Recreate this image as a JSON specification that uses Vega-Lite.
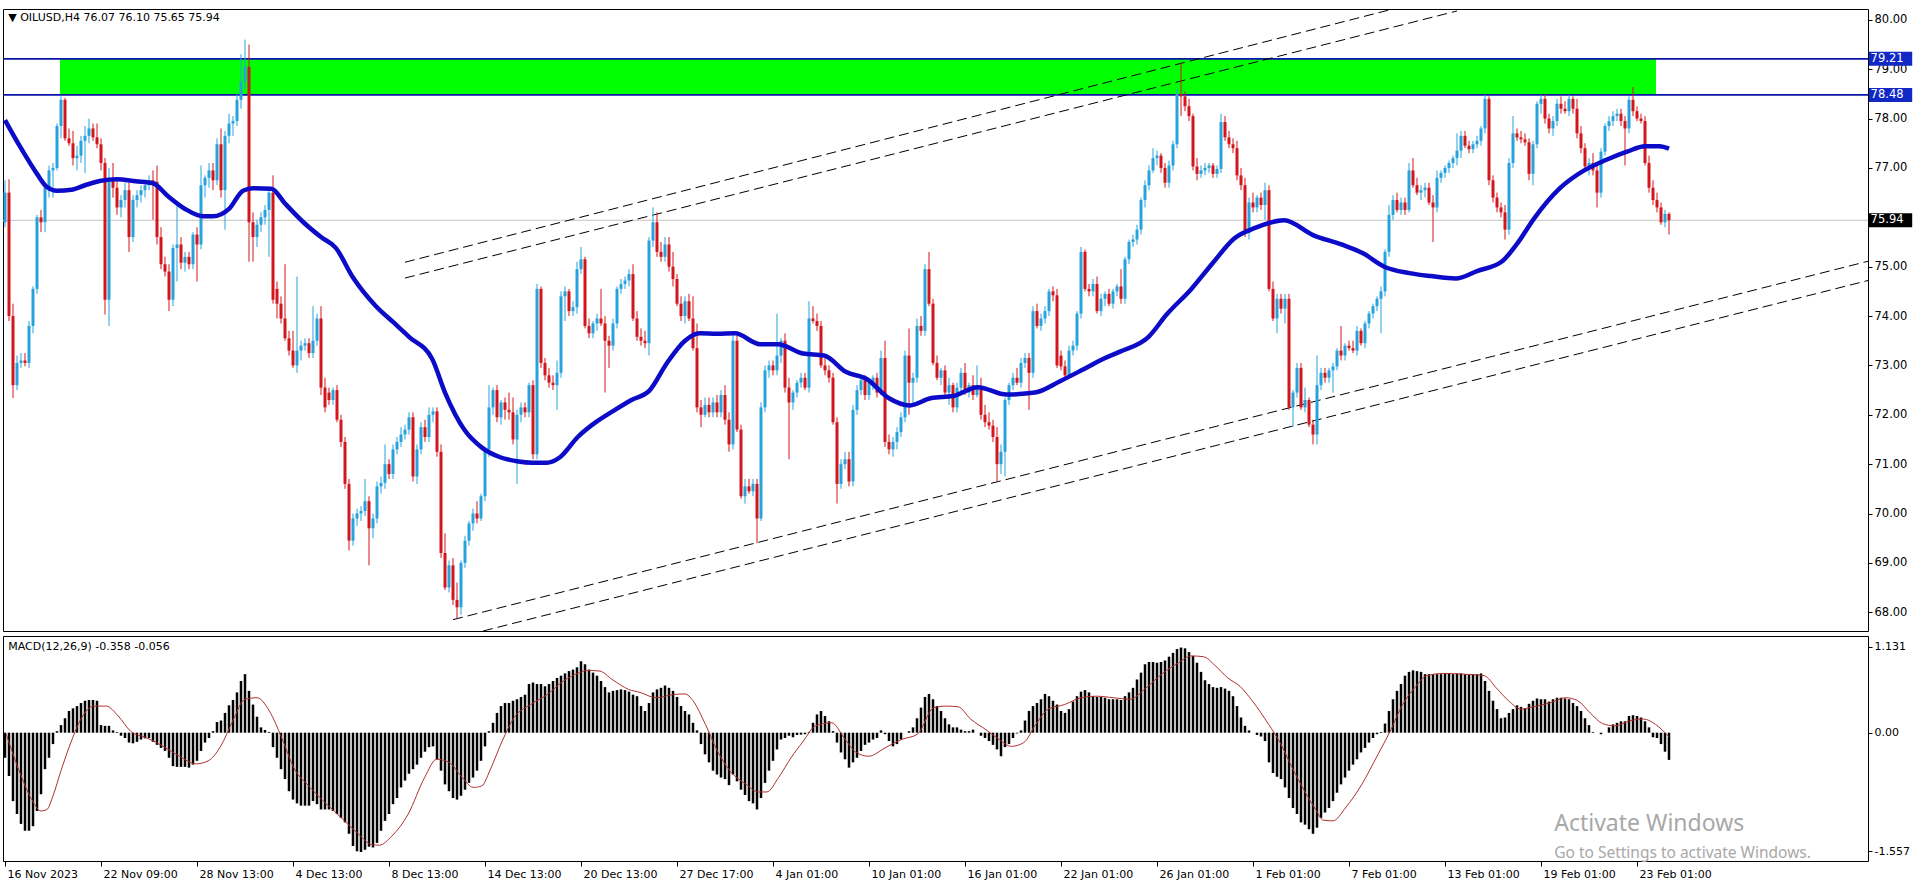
{
"$schema":"https://vega.github.io/schema/vega-lite/v6.json",
"usermeta":{"embedOptions":{"actions":false}},
"background":"white",
"padding":{"left":-5,"top":8,"right":0,"bottom":0},
"config":{"view":{"stroke":"#000000","strokeWidth":1},"axis":{"labelFont":"DejaVu Sans","labelFontSize":11,"labelColor":"#000000","tickColor":"#000000","grid":false},"text":{"font":"DejaVu Sans"}},
"datasets":{
"bars":[
{"i":0,"o":75.9,"h":76.75,"l":75.8,"c":76.5,"m":-0.33},
{"i":1,"o":76.5,"h":76.77,"l":73.9,"c":74.0,"m":-0.57},
{"i":2,"o":74.0,"h":74.25,"l":72.34,"c":72.6,"m":-0.9},
{"i":3,"o":72.6,"h":73.2,"l":72.5,"c":73.05,"m":-1.07},
{"i":4,"o":73.05,"h":73.25,"l":72.95,"c":73.1,"m":-1.2},
{"i":5,"o":73.1,"h":73.25,"l":72.98,"c":73.05,"m":-1.29},
{"i":6,"o":73.05,"h":73.9,"l":72.95,"c":73.8,"m":-1.29},
{"i":7,"o":73.8,"h":74.6,"l":73.65,"c":74.55,"m":-1.23},
{"i":8,"o":74.55,"h":76.05,"l":74.45,"c":76.0,"m":-1.03},
{"i":9,"o":76.0,"h":76.15,"l":75.7,"c":75.9,"m":-0.81},
{"i":10,"o":75.9,"h":76.7,"l":75.7,"c":76.6,"m":-0.48},
{"i":11,"o":76.6,"h":77.05,"l":76.4,"c":76.95,"m":-0.33},
{"i":12,"o":76.95,"h":77.1,"l":76.4,"c":77.0,"m":-0.15},
{"i":13,"o":77.0,"h":77.9,"l":76.95,"c":77.85,"m":0.02},
{"i":14,"o":77.85,"h":78.45,"l":77.6,"c":78.38,"m":0.1},
{"i":15,"o":78.38,"h":78.42,"l":77.55,"c":77.6,"m":0.19},
{"i":16,"o":77.6,"h":77.8,"l":77.45,"c":77.5,"m":0.285},
{"i":17,"o":77.5,"h":77.75,"l":77.05,"c":77.2,"m":0.32},
{"i":18,"o":77.2,"h":77.45,"l":76.95,"c":77.25,"m":0.35},
{"i":19,"o":77.25,"h":77.65,"l":77.1,"c":77.55,"m":0.39},
{"i":20,"o":77.55,"h":77.85,"l":76.9,"c":77.65,"m":0.42},
{"i":21,"o":77.65,"h":78.0,"l":77.5,"c":77.8,"m":0.43},
{"i":22,"o":77.8,"h":77.9,"l":77.55,"c":77.62,"m":0.43},
{"i":23,"o":77.62,"h":77.9,"l":77.4,"c":77.48,"m":0.42},
{"i":24,"o":77.48,"h":77.6,"l":76.95,"c":77.1,"m":0.1},
{"i":25,"o":77.1,"h":77.2,"l":74.03,"c":74.33,"m":0.09},
{"i":26,"o":74.33,"h":77.0,"l":73.8,"c":76.8,"m":0.09},
{"i":27,"o":76.8,"h":77.1,"l":76.4,"c":76.6,"m":0.03},
{"i":28,"o":76.6,"h":76.75,"l":76.05,"c":76.2,"m":0.01},
{"i":29,"o":76.2,"h":76.45,"l":76.0,"c":76.35,"m":-0.04},
{"i":30,"o":76.35,"h":76.7,"l":76.2,"c":76.55,"m":-0.07},
{"i":31,"o":76.55,"h":76.7,"l":75.3,"c":75.6,"m":-0.13},
{"i":32,"o":75.6,"h":76.45,"l":75.5,"c":76.35,"m":-0.14},
{"i":33,"o":76.35,"h":76.55,"l":76.2,"c":76.45,"m":-0.12},
{"i":34,"o":76.45,"h":76.65,"l":76.3,"c":76.55,"m":-0.09},
{"i":35,"o":76.55,"h":76.75,"l":76.4,"c":76.65,"m":-0.075},
{"i":36,"o":76.65,"h":76.85,"l":76.55,"c":76.75,"m":-0.07},
{"i":37,"o":76.75,"h":76.95,"l":75.95,"c":76.72,"m":-0.12},
{"i":38,"o":76.72,"h":77.05,"l":75.45,"c":75.6,"m":-0.16},
{"i":39,"o":75.6,"h":75.8,"l":74.95,"c":75.05,"m":-0.2},
{"i":40,"o":75.05,"h":75.2,"l":74.8,"c":74.9,"m":-0.24},
{"i":41,"o":74.9,"h":75.05,"l":74.1,"c":74.33,"m":-0.33},
{"i":42,"o":74.33,"h":75.45,"l":74.2,"c":75.38,"m":-0.44},
{"i":43,"o":75.38,"h":76.3,"l":74.7,"c":75.45,"m":-0.45},
{"i":44,"o":75.45,"h":75.6,"l":74.95,"c":75.08,"m":-0.45},
{"i":45,"o":75.08,"h":75.3,"l":74.9,"c":75.2,"m":-0.45},
{"i":46,"o":75.2,"h":75.3,"l":74.95,"c":75.05,"m":-0.46},
{"i":47,"o":75.05,"h":75.7,"l":74.95,"c":75.65,"m":-0.42},
{"i":48,"o":75.65,"h":75.8,"l":74.7,"c":75.45,"m":-0.37},
{"i":49,"o":75.45,"h":77.05,"l":75.35,"c":76.65,"m":-0.24},
{"i":50,"o":76.65,"h":76.85,"l":76.4,"c":76.8,"m":-0.13},
{"i":51,"o":76.8,"h":77.1,"l":76.6,"c":76.95,"m":-0.07},
{"i":52,"o":76.95,"h":77.1,"l":76.55,"c":76.75,"m":0.02},
{"i":53,"o":76.75,"h":77.6,"l":76.65,"c":77.48,"m":0.14},
{"i":54,"o":77.48,"h":77.8,"l":76.4,"c":76.55,"m":0.16},
{"i":55,"o":76.55,"h":77.75,"l":75.75,"c":77.65,"m":0.26},
{"i":56,"o":77.65,"h":78.1,"l":77.5,"c":77.9,"m":0.36},
{"i":57,"o":77.9,"h":78.05,"l":77.65,"c":77.95,"m":0.43},
{"i":58,"o":77.95,"h":78.5,"l":77.85,"c":78.38,"m":0.53},
{"i":59,"o":78.38,"h":79.3,"l":78.2,"c":78.75,"m":0.68},
{"i":60,"o":78.75,"h":79.6,"l":78.6,"c":79.05,"m":0.77},
{"i":61,"o":79.05,"h":79.5,"l":75.1,"c":75.9,"m":0.55},
{"i":62,"o":75.9,"h":76.1,"l":75.1,"c":75.6,"m":0.37},
{"i":63,"o":75.6,"h":75.95,"l":75.4,"c":75.85,"m":0.21},
{"i":64,"o":75.85,"h":76.1,"l":75.7,"c":76.0,"m":0.07},
{"i":65,"o":76.0,"h":76.25,"l":75.85,"c":76.15,"m":0.035},
{"i":66,"o":76.15,"h":76.6,"l":75.2,"c":76.5,"m":0.01},
{"i":67,"o":76.5,"h":76.85,"l":74.25,"c":74.33,"m":-0.19},
{"i":68,"o":74.55,"h":74.7,"l":73.95,"c":74.25,"m":-0.33},
{"i":69,"o":74.25,"h":74.4,"l":73.85,"c":73.95,"m":-0.48},
{"i":70,"o":73.95,"h":75.05,"l":73.5,"c":73.55,"m":-0.61},
{"i":71,"o":73.55,"h":73.7,"l":73.2,"c":73.3,"m":-0.77},
{"i":72,"o":73.3,"h":73.7,"l":72.95,"c":73.0,"m":-0.88},
{"i":73,"o":73.0,"h":74.8,"l":72.85,"c":73.3,"m":-0.93},
{"i":74,"o":73.3,"h":73.5,"l":73.1,"c":73.4,"m":-0.96},
{"i":75,"o":73.4,"h":73.55,"l":73.3,"c":73.45,"m":-0.96},
{"i":76,"o":73.45,"h":73.55,"l":73.15,"c":73.25,"m":-0.96},
{"i":77,"o":73.25,"h":74.2,"l":73.15,"c":73.5,"m":-0.9},
{"i":78,"o":73.5,"h":74.05,"l":73.4,"c":73.95,"m":-0.94},
{"i":79,"o":73.95,"h":74.2,"l":72.4,"c":72.55,"m":-1.01},
{"i":80,"o":72.55,"h":72.75,"l":72.05,"c":72.15,"m":-1.01},
{"i":81,"o":72.45,"h":72.55,"l":72.2,"c":72.3,"m":-1.01},
{"i":82,"o":72.3,"h":72.55,"l":72.2,"c":72.5,"m":-1.03},
{"i":83,"o":72.5,"h":72.6,"l":71.85,"c":71.9,"m":-1.07},
{"i":84,"o":71.9,"h":72.0,"l":71.35,"c":71.45,"m":-1.12},
{"i":85,"o":71.45,"h":71.55,"l":70.5,"c":70.6,"m":-1.18},
{"i":86,"o":70.6,"h":70.7,"l":69.25,"c":69.45,"m":-1.33},
{"i":87,"o":69.45,"h":70.0,"l":69.35,"c":69.9,"m":-1.49},
{"i":88,"o":69.9,"h":70.1,"l":69.75,"c":70.0,"m":-1.56},
{"i":89,"o":70.0,"h":70.15,"l":69.85,"c":70.05,"m":-1.57},
{"i":90,"o":70.05,"h":70.7,"l":69.95,"c":70.25,"m":-1.54},
{"i":91,"o":70.25,"h":70.35,"l":68.95,"c":69.7,"m":-1.5},
{"i":92,"o":69.7,"h":70.0,"l":69.5,"c":69.9,"m":-1.51},
{"i":93,"o":69.9,"h":70.65,"l":69.8,"c":70.55,"m":-1.45},
{"i":94,"o":70.55,"h":70.75,"l":70.4,"c":70.62,"m":-1.29},
{"i":95,"o":70.62,"h":71.4,"l":70.5,"c":71.0,"m":-1.16},
{"i":96,"o":71.0,"h":71.1,"l":70.7,"c":70.8,"m":-1.07},
{"i":97,"o":70.8,"h":71.4,"l":70.7,"c":71.3,"m":-0.94},
{"i":98,"o":71.3,"h":71.55,"l":71.2,"c":71.45,"m":-0.86},
{"i":99,"o":71.45,"h":71.75,"l":71.35,"c":71.6,"m":-0.72},
{"i":100,"o":71.6,"h":71.8,"l":71.5,"c":71.7,"m":-0.63},
{"i":101,"o":71.7,"h":72.05,"l":71.6,"c":71.95,"m":-0.54},
{"i":102,"o":71.95,"h":72.05,"l":70.65,"c":70.75,"m":-0.48},
{"i":103,"o":70.75,"h":71.4,"l":70.6,"c":71.3,"m":-0.42},
{"i":104,"o":71.3,"h":71.85,"l":71.2,"c":71.75,"m":-0.33},
{"i":105,"o":71.75,"h":71.9,"l":71.45,"c":71.55,"m":-0.25},
{"i":106,"o":71.55,"h":72.15,"l":71.45,"c":72.0,"m":-0.19},
{"i":107,"o":72.0,"h":72.15,"l":71.85,"c":72.07,"m":-0.18},
{"i":108,"o":72.07,"h":72.15,"l":71.15,"c":71.25,"m":-0.35},
{"i":109,"o":71.25,"h":71.4,"l":69.1,"c":69.2,"m":-0.5},
{"i":110,"o":69.2,"h":69.6,"l":68.45,"c":68.5,"m":-0.68},
{"i":111,"o":68.5,"h":69.05,"l":68.4,"c":68.95,"m":-0.77},
{"i":112,"o":68.95,"h":69.1,"l":68.15,"c":68.25,"m":-0.86},
{"i":113,"o":68.25,"h":68.6,"l":67.87,"c":68.1,"m":-0.88},
{"i":114,"o":68.1,"h":69.05,"l":67.95,"c":69.0,"m":-0.83},
{"i":115,"o":69.0,"h":69.55,"l":68.9,"c":69.45,"m":-0.75},
{"i":116,"o":69.45,"h":69.85,"l":69.35,"c":69.8,"m":-0.66},
{"i":117,"o":69.8,"h":70.1,"l":69.65,"c":70.0,"m":-0.59},
{"i":118,"o":70.0,"h":70.25,"l":69.8,"c":69.9,"m":-0.5},
{"i":119,"o":69.9,"h":70.4,"l":69.85,"c":70.35,"m":-0.37},
{"i":120,"o":70.35,"h":71.35,"l":70.25,"c":71.3,"m":-0.18},
{"i":121,"o":71.3,"h":72.6,"l":71.15,"c":72.15,"m":0.02},
{"i":122,"o":72.15,"h":72.55,"l":72.0,"c":72.5,"m":0.13},
{"i":123,"o":72.5,"h":72.6,"l":71.85,"c":71.95,"m":0.26},
{"i":124,"o":71.95,"h":72.3,"l":71.8,"c":72.25,"m":0.35},
{"i":125,"o":72.25,"h":72.35,"l":71.9,"c":72.1,"m":0.39},
{"i":126,"o":72.1,"h":72.45,"l":71.9,"c":72.05,"m":0.39},
{"i":127,"o":72.05,"h":72.35,"l":71.4,"c":71.5,"m":0.42},
{"i":128,"o":71.5,"h":72.1,"l":70.6,"c":72.0,"m":0.44},
{"i":129,"o":72.0,"h":72.25,"l":71.85,"c":72.15,"m":0.47},
{"i":130,"o":72.15,"h":72.25,"l":71.95,"c":72.05,"m":0.5},
{"i":131,"o":72.05,"h":72.65,"l":71.95,"c":72.6,"m":0.64},
{"i":132,"o":72.6,"h":72.7,"l":71.1,"c":71.2,"m":0.66},
{"i":133,"o":71.2,"h":74.65,"l":71.1,"c":74.55,"m":0.64},
{"i":134,"o":74.55,"h":74.6,"l":72.95,"c":73.05,"m":0.64},
{"i":135,"o":73.05,"h":73.15,"l":72.7,"c":72.8,"m":0.61},
{"i":136,"o":72.8,"h":72.95,"l":72.55,"c":72.65,"m":0.64},
{"i":137,"o":72.65,"h":72.8,"l":72.5,"c":72.6,"m":0.68},
{"i":138,"o":72.6,"h":73.1,"l":72.1,"c":72.85,"m":0.72},
{"i":139,"o":72.85,"h":74.5,"l":72.75,"c":74.4,"m":0.75},
{"i":140,"o":74.4,"h":74.6,"l":73.9,"c":74.5,"m":0.78},
{"i":141,"o":74.5,"h":74.55,"l":74.0,"c":74.1,"m":0.81},
{"i":142,"o":74.1,"h":74.3,"l":74.0,"c":74.18,"m":0.83},
{"i":143,"o":74.18,"h":75.1,"l":74.05,"c":74.95,"m":0.86},
{"i":144,"o":74.95,"h":75.4,"l":74.85,"c":75.15,"m":0.94},
{"i":145,"o":75.15,"h":75.2,"l":73.75,"c":73.8,"m":0.9},
{"i":146,"o":73.8,"h":73.95,"l":73.55,"c":73.65,"m":0.83},
{"i":147,"o":73.65,"h":73.9,"l":73.55,"c":73.85,"m":0.79},
{"i":148,"o":73.85,"h":74.05,"l":73.7,"c":73.95,"m":0.75},
{"i":149,"o":73.95,"h":74.55,"l":73.8,"c":73.85,"m":0.68},
{"i":150,"o":73.85,"h":74.0,"l":72.45,"c":73.5,"m":0.6},
{"i":151,"o":73.5,"h":73.6,"l":72.95,"c":73.4,"m":0.53},
{"i":152,"o":73.4,"h":73.95,"l":73.3,"c":73.85,"m":0.55},
{"i":153,"o":73.85,"h":74.6,"l":73.75,"c":74.55,"m":0.56},
{"i":154,"o":74.55,"h":74.75,"l":74.45,"c":74.65,"m":0.57},
{"i":155,"o":74.65,"h":74.8,"l":74.55,"c":74.72,"m":0.56},
{"i":156,"o":74.72,"h":74.95,"l":74.6,"c":74.85,"m":0.54},
{"i":157,"o":74.85,"h":75.05,"l":73.9,"c":73.95,"m":0.5},
{"i":158,"o":73.95,"h":74.1,"l":73.5,"c":73.58,"m":0.48},
{"i":159,"o":73.58,"h":73.75,"l":73.4,"c":73.5,"m":0.35},
{"i":160,"o":73.5,"h":73.7,"l":73.35,"c":73.45,"m":0.285},
{"i":161,"o":73.45,"h":75.6,"l":73.2,"c":75.53,"m":0.39},
{"i":162,"o":75.53,"h":76.2,"l":75.4,"c":75.9,"m":0.53},
{"i":163,"o":75.9,"h":76.1,"l":75.2,"c":75.3,"m":0.57},
{"i":164,"o":75.3,"h":75.5,"l":75.1,"c":75.2,"m":0.59},
{"i":165,"o":75.2,"h":75.6,"l":75.1,"c":75.45,"m":0.62},
{"i":166,"o":75.45,"h":75.6,"l":74.9,"c":75.0,"m":0.59},
{"i":167,"o":75.0,"h":75.3,"l":74.6,"c":74.75,"m":0.55},
{"i":168,"o":74.75,"h":74.85,"l":74.2,"c":74.25,"m":0.47},
{"i":169,"o":74.25,"h":74.4,"l":73.9,"c":74.0,"m":0.35},
{"i":170,"o":74.0,"h":74.4,"l":73.85,"c":74.3,"m":0.285},
{"i":171,"o":74.3,"h":74.45,"l":73.9,"c":73.95,"m":0.24},
{"i":172,"o":73.95,"h":74.4,"l":73.3,"c":73.35,"m":0.13},
{"i":173,"o":73.35,"h":73.85,"l":72.05,"c":72.15,"m":0.03},
{"i":174,"o":72.15,"h":72.3,"l":71.75,"c":72.0,"m":-0.15},
{"i":175,"o":72.0,"h":72.35,"l":71.95,"c":72.2,"m":-0.285},
{"i":176,"o":72.2,"h":72.35,"l":71.95,"c":72.05,"m":-0.39},
{"i":177,"o":72.05,"h":72.35,"l":71.95,"c":72.25,"m":-0.5},
{"i":178,"o":72.25,"h":72.4,"l":71.95,"c":72.05,"m":-0.55},
{"i":179,"o":72.05,"h":72.5,"l":71.95,"c":72.4,"m":-0.59},
{"i":180,"o":72.4,"h":72.6,"l":71.8,"c":71.9,"m":-0.61},
{"i":181,"o":71.9,"h":72.05,"l":71.25,"c":71.4,"m":-0.69},
{"i":182,"o":71.4,"h":73.65,"l":71.3,"c":73.5,"m":-0.55},
{"i":183,"o":73.5,"h":73.6,"l":71.65,"c":71.7,"m":-0.64},
{"i":184,"o":71.7,"h":71.8,"l":70.3,"c":70.35,"m":-0.75},
{"i":185,"o":70.35,"h":70.7,"l":70.2,"c":70.55,"m":-0.82},
{"i":186,"o":70.55,"h":70.7,"l":70.4,"c":70.45,"m":-0.9},
{"i":187,"o":70.45,"h":70.7,"l":70.35,"c":70.6,"m":-0.93},
{"i":188,"o":70.6,"h":70.7,"l":69.4,"c":69.9,"m":-1.01},
{"i":189,"o":69.9,"h":72.25,"l":69.85,"c":72.15,"m":-0.86},
{"i":190,"o":72.15,"h":73.0,"l":72.05,"c":72.9,"m":-0.66},
{"i":191,"o":72.9,"h":73.1,"l":72.75,"c":73.0,"m":-0.5},
{"i":192,"o":73.0,"h":73.1,"l":72.8,"c":72.9,"m":-0.37},
{"i":193,"o":72.9,"h":74.05,"l":72.8,"c":73.2,"m":-0.22},
{"i":194,"o":73.2,"h":73.55,"l":73.05,"c":73.5,"m":-0.09},
{"i":195,"o":73.5,"h":73.65,"l":72.45,"c":72.55,"m":-0.07},
{"i":196,"o":72.55,"h":72.75,"l":71.1,"c":72.25,"m":-0.04},
{"i":197,"o":72.25,"h":72.5,"l":72.1,"c":72.45,"m":-0.06},
{"i":198,"o":72.45,"h":72.7,"l":72.35,"c":72.65,"m":-0.03},
{"i":199,"o":72.65,"h":72.85,"l":72.55,"c":72.75,"m":-0.025},
{"i":200,"o":72.75,"h":72.85,"l":72.5,"c":72.55,"m":-0.02},
{"i":201,"o":72.55,"h":74.3,"l":72.45,"c":73.95,"m":0.01},
{"i":202,"o":73.95,"h":74.2,"l":73.85,"c":73.9,"m":0.13},
{"i":203,"o":73.9,"h":74.05,"l":73.7,"c":73.8,"m":0.24},
{"i":204,"o":73.8,"h":73.9,"l":72.95,"c":73.0,"m":0.285},
{"i":205,"o":73.0,"h":73.15,"l":72.8,"c":72.9,"m":0.22},
{"i":206,"o":72.9,"h":73.0,"l":72.65,"c":72.75,"m":0.15},
{"i":207,"o":72.75,"h":72.85,"l":71.8,"c":71.85,"m":0.02},
{"i":208,"o":71.85,"h":71.95,"l":70.2,"c":70.6,"m":-0.13},
{"i":209,"o":70.6,"h":71.1,"l":70.5,"c":71.0,"m":-0.26},
{"i":210,"o":71.0,"h":71.25,"l":70.9,"c":71.1,"m":-0.35},
{"i":211,"o":71.1,"h":71.25,"l":70.55,"c":70.65,"m":-0.46},
{"i":212,"o":70.65,"h":72.2,"l":70.55,"c":72.1,"m":-0.39},
{"i":213,"o":72.1,"h":72.6,"l":72.0,"c":72.5,"m":-0.33},
{"i":214,"o":72.5,"h":72.8,"l":72.4,"c":72.7,"m":-0.24},
{"i":215,"o":72.7,"h":72.8,"l":72.3,"c":72.4,"m":-0.16},
{"i":216,"o":72.4,"h":72.75,"l":72.3,"c":72.65,"m":-0.13},
{"i":217,"o":72.65,"h":72.8,"l":72.5,"c":72.75,"m":-0.09},
{"i":218,"o":72.75,"h":72.85,"l":72.35,"c":72.45,"m":-0.07},
{"i":219,"o":72.45,"h":73.3,"l":72.4,"c":73.15,"m":0.03},
{"i":220,"o":73.15,"h":73.5,"l":71.35,"c":71.45,"m":-0.02},
{"i":221,"o":71.45,"h":71.6,"l":71.2,"c":71.3,"m":-0.11},
{"i":222,"o":71.3,"h":71.55,"l":71.15,"c":71.45,"m":-0.18},
{"i":223,"o":71.45,"h":71.75,"l":71.3,"c":71.65,"m":-0.15},
{"i":224,"o":71.65,"h":72.05,"l":71.55,"c":71.95,"m":-0.09},
{"i":225,"o":71.95,"h":73.3,"l":71.85,"c":73.2,"m":0.0},
{"i":226,"o":73.2,"h":73.75,"l":72.0,"c":72.65,"m":0.02},
{"i":227,"o":72.65,"h":72.85,"l":72.2,"c":72.75,"m":0.07},
{"i":228,"o":72.75,"h":73.95,"l":72.65,"c":73.8,"m":0.19},
{"i":229,"o":73.8,"h":74.0,"l":73.6,"c":73.7,"m":0.33},
{"i":230,"o":73.7,"h":75.05,"l":73.6,"c":74.95,"m":0.47},
{"i":231,"o":74.95,"h":75.3,"l":74.2,"c":74.25,"m":0.51},
{"i":232,"o":74.25,"h":74.35,"l":73.0,"c":73.05,"m":0.44},
{"i":233,"o":73.05,"h":73.2,"l":72.7,"c":72.75,"m":0.35},
{"i":234,"o":72.75,"h":72.95,"l":72.6,"c":72.9,"m":0.285},
{"i":235,"o":72.9,"h":73.0,"l":72.4,"c":72.45,"m":0.19},
{"i":236,"o":72.45,"h":72.75,"l":72.2,"c":72.6,"m":0.11},
{"i":237,"o":72.6,"h":72.65,"l":72.05,"c":72.15,"m":0.07},
{"i":238,"o":72.15,"h":72.65,"l":72.05,"c":72.55,"m":0.07},
{"i":239,"o":72.55,"h":72.95,"l":72.45,"c":72.85,"m":0.04},
{"i":240,"o":72.85,"h":73.05,"l":72.4,"c":72.45,"m":0.02},
{"i":241,"o":72.45,"h":72.65,"l":72.35,"c":72.6,"m":0.02},
{"i":242,"o":72.6,"h":72.8,"l":72.3,"c":72.4,"m":0.04},
{"i":243,"o":72.4,"h":73.0,"l":72.35,"c":72.55,"m":0.0},
{"i":244,"o":72.55,"h":72.75,"l":71.9,"c":72.0,"m":-0.04},
{"i":245,"o":72.0,"h":72.2,"l":71.75,"c":71.85,"m":-0.07},
{"i":246,"o":71.85,"h":72.05,"l":71.7,"c":71.78,"m":-0.11},
{"i":247,"o":71.78,"h":71.9,"l":71.45,"c":71.55,"m":-0.16},
{"i":248,"o":71.55,"h":71.75,"l":70.65,"c":71.0,"m":-0.22},
{"i":249,"o":71.0,"h":71.4,"l":70.8,"c":71.25,"m":-0.31},
{"i":250,"o":71.25,"h":72.35,"l":70.75,"c":72.3,"m":-0.19},
{"i":251,"o":72.3,"h":72.65,"l":72.2,"c":72.6,"m":-0.15},
{"i":252,"o":72.6,"h":72.85,"l":72.5,"c":72.75,"m":-0.07},
{"i":253,"o":72.75,"h":72.95,"l":72.6,"c":72.65,"m":-0.01},
{"i":254,"o":72.65,"h":73.15,"l":72.55,"c":73.05,"m":0.03},
{"i":255,"o":73.05,"h":73.25,"l":72.95,"c":73.15,"m":0.16},
{"i":256,"o":73.15,"h":73.25,"l":72.1,"c":72.85,"m":0.285},
{"i":257,"o":72.85,"h":74.2,"l":72.75,"c":74.1,"m":0.35},
{"i":258,"o":74.1,"h":74.25,"l":73.75,"c":73.8,"m":0.39},
{"i":259,"o":73.8,"h":74.05,"l":73.7,"c":73.95,"m":0.44},
{"i":260,"o":73.95,"h":74.2,"l":73.85,"c":74.1,"m":0.51},
{"i":261,"o":74.1,"h":74.55,"l":74.0,"c":74.5,"m":0.48},
{"i":262,"o":74.5,"h":74.6,"l":74.3,"c":74.42,"m":0.42},
{"i":263,"o":74.42,"h":74.55,"l":72.95,"c":73.0,"m":0.37},
{"i":264,"o":73.2,"h":73.3,"l":72.9,"c":72.98,"m":0.285},
{"i":265,"o":72.98,"h":73.1,"l":72.7,"c":72.8,"m":0.26},
{"i":266,"o":72.8,"h":73.4,"l":72.75,"c":73.3,"m":0.31},
{"i":267,"o":73.3,"h":73.5,"l":73.2,"c":73.4,"m":0.41},
{"i":268,"o":73.4,"h":74.1,"l":73.3,"c":74.05,"m":0.48},
{"i":269,"o":74.05,"h":75.4,"l":73.95,"c":75.3,"m":0.54},
{"i":270,"o":75.3,"h":75.35,"l":74.5,"c":74.55,"m":0.56},
{"i":271,"o":74.55,"h":74.65,"l":74.4,"c":74.5,"m":0.53},
{"i":272,"o":74.5,"h":74.75,"l":74.4,"c":74.65,"m":0.48},
{"i":273,"o":74.65,"h":74.8,"l":74.05,"c":74.1,"m":0.47},
{"i":274,"o":74.1,"h":74.45,"l":74.0,"c":74.35,"m":0.47},
{"i":275,"o":74.35,"h":74.5,"l":74.2,"c":74.45,"m":0.46},
{"i":276,"o":74.45,"h":74.55,"l":74.2,"c":74.25,"m":0.44},
{"i":277,"o":74.25,"h":74.55,"l":74.15,"c":74.5,"m":0.44},
{"i":278,"o":74.5,"h":74.65,"l":74.4,"c":74.6,"m":0.44},
{"i":279,"o":74.6,"h":74.95,"l":74.25,"c":74.35,"m":0.43},
{"i":280,"o":74.35,"h":75.2,"l":74.25,"c":75.15,"m":0.48},
{"i":281,"o":75.15,"h":75.55,"l":75.05,"c":75.5,"m":0.53},
{"i":282,"o":75.5,"h":75.65,"l":75.4,"c":75.55,"m":0.59},
{"i":283,"o":75.55,"h":75.85,"l":75.45,"c":75.75,"m":0.7},
{"i":284,"o":75.75,"h":76.4,"l":75.65,"c":76.35,"m":0.79},
{"i":285,"o":76.35,"h":76.75,"l":76.2,"c":76.65,"m":0.9},
{"i":286,"o":76.65,"h":77.05,"l":76.55,"c":76.95,"m":0.93},
{"i":287,"o":76.95,"h":77.4,"l":76.9,"c":77.2,"m":0.93},
{"i":288,"o":77.2,"h":77.35,"l":77.05,"c":77.25,"m":0.92},
{"i":289,"o":77.25,"h":77.3,"l":76.9,"c":77.0,"m":0.93},
{"i":290,"o":77.0,"h":77.1,"l":76.6,"c":76.7,"m":0.95},
{"i":291,"o":76.7,"h":77.15,"l":76.6,"c":77.05,"m":1.0},
{"i":292,"o":77.05,"h":77.55,"l":76.95,"c":77.48,"m":1.05},
{"i":293,"o":77.48,"h":78.6,"l":77.4,"c":78.5,"m":1.1},
{"i":294,"o":78.5,"h":79.13,"l":78.05,"c":78.45,"m":1.12},
{"i":295,"o":78.45,"h":78.55,"l":78.15,"c":78.25,"m":1.11},
{"i":296,"o":78.25,"h":78.4,"l":77.95,"c":78.05,"m":1.06},
{"i":297,"o":78.05,"h":78.1,"l":76.95,"c":77.03,"m":1.01},
{"i":298,"o":77.03,"h":77.2,"l":76.75,"c":76.88,"m":0.92},
{"i":299,"o":76.88,"h":77.05,"l":76.8,"c":76.95,"m":0.8},
{"i":300,"o":76.95,"h":77.1,"l":76.85,"c":77.0,"m":0.69},
{"i":301,"o":77.0,"h":77.1,"l":76.9,"c":77.05,"m":0.64},
{"i":302,"o":77.05,"h":77.1,"l":76.8,"c":76.88,"m":0.6},
{"i":303,"o":76.88,"h":77.05,"l":76.8,"c":76.98,"m":0.59},
{"i":304,"o":76.98,"h":78.1,"l":76.9,"c":77.93,"m":0.6},
{"i":305,"o":77.93,"h":78.05,"l":77.55,"c":77.62,"m":0.58},
{"i":306,"o":77.62,"h":77.75,"l":77.4,"c":77.48,"m":0.55},
{"i":307,"o":77.48,"h":77.6,"l":77.3,"c":77.4,"m":0.48},
{"i":308,"o":77.4,"h":77.55,"l":76.75,"c":76.85,"m":0.35},
{"i":309,"o":76.85,"h":77.0,"l":76.55,"c":76.65,"m":0.2},
{"i":310,"o":76.65,"h":76.8,"l":75.6,"c":75.68,"m":0.09},
{"i":311,"o":75.68,"h":76.4,"l":75.55,"c":76.3,"m":0.03},
{"i":312,"o":76.3,"h":76.5,"l":76.1,"c":76.2,"m":0.0},
{"i":313,"o":76.2,"h":76.45,"l":76.1,"c":76.4,"m":-0.03},
{"i":314,"o":76.4,"h":76.5,"l":76.15,"c":76.25,"m":-0.05},
{"i":315,"o":76.25,"h":76.7,"l":75.95,"c":76.55,"m":-0.11},
{"i":316,"o":76.55,"h":76.65,"l":74.5,"c":74.55,"m":-0.39},
{"i":317,"o":74.55,"h":74.7,"l":73.9,"c":73.95,"m":-0.53},
{"i":318,"o":73.95,"h":74.45,"l":73.65,"c":74.35,"m":-0.58},
{"i":319,"o":74.35,"h":74.45,"l":74.05,"c":74.15,"m":-0.61},
{"i":320,"o":74.15,"h":74.45,"l":73.85,"c":74.35,"m":-0.72},
{"i":321,"o":74.35,"h":74.45,"l":72.1,"c":72.15,"m":-0.86},
{"i":322,"o":72.15,"h":72.5,"l":71.75,"c":72.45,"m":-0.99},
{"i":323,"o":72.45,"h":73.05,"l":72.35,"c":72.95,"m":-1.07},
{"i":324,"o":72.95,"h":73.05,"l":72.1,"c":72.15,"m":-1.18},
{"i":325,"o":72.15,"h":72.55,"l":72.05,"c":72.3,"m":-1.21},
{"i":326,"o":72.3,"h":72.35,"l":71.75,"c":71.8,"m":-1.27},
{"i":327,"o":71.8,"h":71.9,"l":71.4,"c":71.6,"m":-1.33},
{"i":328,"o":71.6,"h":73.2,"l":71.4,"c":72.6,"m":-1.25},
{"i":329,"o":72.6,"h":72.95,"l":72.5,"c":72.85,"m":-1.12},
{"i":330,"o":72.85,"h":72.95,"l":72.65,"c":72.75,"m":-1.05},
{"i":331,"o":72.75,"h":72.95,"l":72.65,"c":72.9,"m":-0.99},
{"i":332,"o":72.9,"h":73.05,"l":72.45,"c":72.98,"m":-0.9},
{"i":333,"o":72.98,"h":73.35,"l":72.9,"c":73.3,"m":-0.79},
{"i":334,"o":73.3,"h":73.8,"l":73.1,"c":73.2,"m":-0.68},
{"i":335,"o":73.2,"h":73.45,"l":73.1,"c":73.4,"m":-0.59},
{"i":336,"o":73.4,"h":73.5,"l":73.3,"c":73.35,"m":-0.5},
{"i":337,"o":73.35,"h":73.5,"l":73.25,"c":73.3,"m":-0.42},
{"i":338,"o":73.3,"h":73.8,"l":73.2,"c":73.7,"m":-0.35},
{"i":339,"o":73.7,"h":73.75,"l":73.4,"c":73.45,"m":-0.26},
{"i":340,"o":73.45,"h":73.9,"l":73.35,"c":73.85,"m":-0.2},
{"i":341,"o":73.85,"h":74.1,"l":73.75,"c":74.05,"m":-0.13},
{"i":342,"o":74.05,"h":74.25,"l":73.95,"c":74.2,"m":-0.07},
{"i":343,"o":74.2,"h":74.4,"l":74.1,"c":74.35,"m":-0.02},
{"i":344,"o":74.35,"h":74.6,"l":73.65,"c":74.5,"m":0.01},
{"i":345,"o":74.5,"h":75.35,"l":74.4,"c":75.3,"m":0.12},
{"i":346,"o":75.3,"h":76.25,"l":75.2,"c":76.05,"m":0.285},
{"i":347,"o":76.05,"h":76.45,"l":75.95,"c":76.35,"m":0.44},
{"i":348,"o":76.35,"h":76.5,"l":76.1,"c":76.15,"m":0.55},
{"i":349,"o":76.15,"h":76.4,"l":76.05,"c":76.3,"m":0.64},
{"i":350,"o":76.3,"h":76.4,"l":76.05,"c":76.15,"m":0.75},
{"i":351,"o":76.15,"h":77.1,"l":76.1,"c":76.95,"m":0.8},
{"i":352,"o":76.95,"h":77.2,"l":76.6,"c":76.65,"m":0.82},
{"i":353,"o":76.65,"h":76.8,"l":76.45,"c":76.5,"m":0.81},
{"i":354,"o":76.5,"h":76.65,"l":76.35,"c":76.55,"m":0.8},
{"i":355,"o":76.55,"h":76.7,"l":76.4,"c":76.6,"m":0.77},
{"i":356,"o":76.6,"h":76.7,"l":76.25,"c":76.3,"m":0.77},
{"i":357,"o":76.3,"h":76.45,"l":75.5,"c":76.2,"m":0.77},
{"i":358,"o":76.2,"h":76.95,"l":76.1,"c":76.8,"m":0.77},
{"i":359,"o":76.8,"h":76.95,"l":76.7,"c":76.9,"m":0.77},
{"i":360,"o":76.9,"h":77.05,"l":76.8,"c":77.0,"m":0.78},
{"i":361,"o":77.0,"h":77.15,"l":76.9,"c":77.1,"m":0.78},
{"i":362,"o":77.1,"h":77.25,"l":77.0,"c":77.2,"m":0.77},
{"i":363,"o":77.2,"h":77.7,"l":77.05,"c":77.35,"m":0.78},
{"i":364,"o":77.35,"h":77.75,"l":77.2,"c":77.65,"m":0.78},
{"i":365,"o":77.65,"h":77.75,"l":77.4,"c":77.45,"m":0.77},
{"i":366,"o":77.45,"h":77.55,"l":77.3,"c":77.38,"m":0.76},
{"i":367,"o":77.38,"h":77.55,"l":77.3,"c":77.48,"m":0.77},
{"i":368,"o":77.48,"h":77.65,"l":77.4,"c":77.55,"m":0.77},
{"i":369,"o":77.55,"h":77.85,"l":77.45,"c":77.8,"m":0.78},
{"i":370,"o":77.8,"h":78.48,"l":77.7,"c":78.4,"m":0.68},
{"i":371,"o":78.4,"h":78.45,"l":76.65,"c":76.75,"m":0.55},
{"i":372,"o":76.75,"h":76.85,"l":76.3,"c":76.4,"m":0.42},
{"i":373,"o":76.4,"h":76.5,"l":76.1,"c":76.2,"m":0.31},
{"i":374,"o":76.2,"h":76.3,"l":76.0,"c":76.1,"m":0.19},
{"i":375,"o":76.1,"h":76.25,"l":75.55,"c":75.75,"m":0.2},
{"i":376,"o":75.75,"h":77.2,"l":75.65,"c":77.1,"m":0.26},
{"i":377,"o":77.1,"h":78.05,"l":77.0,"c":77.7,"m":0.31},
{"i":378,"o":77.7,"h":77.8,"l":77.55,"c":77.62,"m":0.36},
{"i":379,"o":77.62,"h":77.75,"l":77.5,"c":77.58,"m":0.34},
{"i":380,"o":77.58,"h":77.7,"l":77.45,"c":77.52,"m":0.32},
{"i":381,"o":77.52,"h":77.6,"l":76.75,"c":76.88,"m":0.38},
{"i":382,"o":76.88,"h":77.55,"l":76.65,"c":77.48,"m":0.42},
{"i":383,"o":77.48,"h":78.35,"l":77.4,"c":78.3,"m":0.45},
{"i":384,"o":78.3,"h":78.48,"l":78.1,"c":78.4,"m":0.44},
{"i":385,"o":78.4,"h":78.5,"l":77.9,"c":78.0,"m":0.44},
{"i":386,"o":78.0,"h":78.1,"l":77.7,"c":77.8,"m":0.41},
{"i":387,"o":77.8,"h":78.05,"l":77.65,"c":77.95,"m":0.44},
{"i":388,"o":77.95,"h":78.4,"l":77.85,"c":78.3,"m":0.46},
{"i":389,"o":78.3,"h":78.45,"l":78.1,"c":78.2,"m":0.46},
{"i":390,"o":78.2,"h":78.35,"l":78.1,"c":78.15,"m":0.45},
{"i":391,"o":78.15,"h":78.48,"l":78.05,"c":78.4,"m":0.44},
{"i":392,"o":78.4,"h":78.45,"l":78.1,"c":78.2,"m":0.39},
{"i":393,"o":78.2,"h":78.4,"l":77.6,"c":77.7,"m":0.35},
{"i":394,"o":77.7,"h":77.85,"l":77.3,"c":77.4,"m":0.285},
{"i":395,"o":77.4,"h":77.5,"l":76.95,"c":77.03,"m":0.19},
{"i":396,"o":77.03,"h":77.2,"l":76.85,"c":77.1,"m":0.1},
{"i":397,"o":77.1,"h":77.3,"l":76.85,"c":76.95,"m":0.01},
{"i":398,"o":76.95,"h":77.05,"l":76.2,"c":76.5,"m":0.0},
{"i":399,"o":76.5,"h":77.4,"l":76.4,"c":77.33,"m":-0.02},
{"i":400,"o":77.33,"h":77.9,"l":77.25,"c":77.85,"m":0.0},
{"i":401,"o":77.85,"h":78.05,"l":77.75,"c":77.95,"m":0.07},
{"i":402,"o":77.95,"h":78.15,"l":77.85,"c":78.05,"m":0.11},
{"i":403,"o":78.05,"h":78.2,"l":77.95,"c":78.1,"m":0.13},
{"i":404,"o":78.1,"h":78.2,"l":77.85,"c":77.95,"m":0.15},
{"i":405,"o":77.95,"h":78.05,"l":77.05,"c":77.8,"m":0.15},
{"i":406,"o":77.8,"h":78.45,"l":77.7,"c":78.38,"m":0.22},
{"i":407,"o":78.38,"h":78.64,"l":78.05,"c":78.15,"m":0.23},
{"i":408,"o":78.15,"h":78.25,"l":77.95,"c":78.0,"m":0.22},
{"i":409,"o":78.0,"h":78.1,"l":77.9,"c":77.95,"m":0.2},
{"i":410,"o":77.95,"h":78.05,"l":77.05,"c":77.1,"m":0.15},
{"i":411,"o":77.1,"h":77.25,"l":76.5,"c":76.6,"m":0.07},
{"i":412,"o":76.6,"h":76.75,"l":76.25,"c":76.35,"m":-0.06},
{"i":413,"o":76.35,"h":76.5,"l":76.1,"c":76.2,"m":-0.07},
{"i":414,"o":76.2,"h":76.3,"l":75.85,"c":75.9,"m":-0.15},
{"i":415,"o":75.9,"h":76.15,"l":75.8,"c":76.07,"m":-0.25},
{"i":416,"o":76.07,"h":76.1,"l":75.65,"c":75.94,"m":-0.358}
],
"ma":[
{"i":0,"v":77.97},{"i":4,"v":77.4},{"i":8,"v":76.88},{"i":10.4,"v":76.62},{"i":13,"v":76.54},{"i":16.6,"v":76.56},{"i":20,"v":76.65},{"i":24,"v":76.74},{"i":28,"v":76.77},{"i":32.7,"v":76.73},{"i":37,"v":76.69},{"i":40.7,"v":76.43},{"i":45,"v":76.17},{"i":49.6,"v":76.02},{"i":52,"v":76.02},{"i":56,"v":76.17},{"i":59.5,"v":76.54},{"i":62,"v":76.59},{"i":66.6,"v":76.58},{"i":70,"v":76.28},{"i":74.6,"v":75.9},{"i":79,"v":75.6},{"i":82.7,"v":75.38},{"i":87,"v":74.78},{"i":92.5,"v":74.22},{"i":97,"v":73.88},{"i":101,"v":73.58},{"i":106.8,"v":73.13},{"i":110,"v":72.45},{"i":114.8,"v":71.7},{"i":119.3,"v":71.33},{"i":123.8,"v":71.14},{"i":128,"v":71.06},{"i":131.8,"v":71.03},{"i":135.4,"v":71.03},{"i":138.75,"v":71.14},{"i":143.2,"v":71.55},{"i":147.7,"v":71.85},{"i":152.1,"v":72.08},{"i":156.6,"v":72.3},{"i":161.1,"v":72.49},{"i":165.5,"v":73.05},{"i":170,"v":73.5},{"i":173.6,"v":73.65},{"i":178,"v":73.64},{"i":182.5,"v":73.65},{"i":188.75,"v":73.43},{"i":193.2,"v":73.43},{"i":199.5,"v":73.24},{"i":204.8,"v":73.2},{"i":210.2,"v":72.87},{"i":215.5,"v":72.72},{"i":220.9,"v":72.34},{"i":226.25,"v":72.19},{"i":231.6,"v":72.34},{"i":237,"v":72.38},{"i":243.2,"v":72.56},{"i":250.4,"v":72.41},{"i":257.5,"v":72.45},{"i":263.75,"v":72.68},{"i":269.1,"v":72.9},{"i":274.5,"v":73.13},{"i":278.75,"v":73.28},{"i":285.9,"v":73.58},{"i":290.4,"v":74.03},{"i":296.6,"v":74.55},{"i":302,"v":75.08},{"i":307.3,"v":75.57},{"i":312.7,"v":75.79},{"i":319.8,"v":75.94},{"i":327,"v":75.64},{"i":334.1,"v":75.45},{"i":339.5,"v":75.27},{"i":344.8,"v":75.0},{"i":351.1,"v":74.87},{"i":356.4,"v":74.81},{"i":362.7,"v":74.76},{"i":368,"v":74.91},{"i":374.3,"v":75.11},{"i":377.9,"v":75.45},{"i":382.3,"v":75.98},{"i":388.6,"v":76.58},{"i":394.8,"v":76.95},{"i":400.2,"v":77.16},{"i":405.5,"v":77.33},{"i":410,"v":77.44},{"i":413.6,"v":77.44},{"i":416,"v":77.39}
],
"sig":[
{"i":0.3,"v":-0.02},{"i":3.9,"v":-0.55},{"i":6.9,"v":-0.9},{"i":9,"v":-1.03},{"i":10.5,"v":-1.01},{"i":12,"v":-0.83},{"i":14,"v":-0.5},{"i":16.6,"v":-0.11},{"i":19.2,"v":0.2},{"i":22.2,"v":0.35},{"i":25.3,"v":0.35},{"i":28.3,"v":0.22},{"i":31.4,"v":0.02},{"i":35.5,"v":-0.07},{"i":39.6,"v":-0.18},{"i":43.6,"v":-0.31},{"i":47.7,"v":-0.41},{"i":50.8,"v":-0.37},{"i":53.9,"v":-0.18},{"i":56.9,"v":0.15},{"i":60,"v":0.44},{"i":63,"v":0.46},{"i":66.1,"v":0.285},{"i":69.2,"v":-0.07},{"i":72.2,"v":-0.46},{"i":76.3,"v":-0.72},{"i":80.4,"v":-0.94},{"i":84.5,"v":-1.14},{"i":88.5,"v":-1.34},{"i":91.6,"v":-1.47},{"i":93.6,"v":-1.48},{"i":96.7,"v":-1.36},{"i":100.8,"v":-1.07},{"i":104.9,"v":-0.59},{"i":107.9,"v":-0.35},{"i":111,"v":-0.39},{"i":114,"v":-0.57},{"i":117.1,"v":-0.72},{"i":119.2,"v":-0.7},{"i":121.2,"v":-0.5},{"i":124.3,"v":-0.11},{"i":127.3,"v":0.2},{"i":131.4,"v":0.37},{"i":135.5,"v":0.5},{"i":139.6,"v":0.68},{"i":143.6,"v":0.79},{"i":145.7,"v":0.82},{"i":148.7,"v":0.81},{"i":151.8,"v":0.7},{"i":155.9,"v":0.57},{"i":158.75,"v":0.53},{"i":162.8,"v":0.46},{"i":166.9,"v":0.5},{"i":170,"v":0.51},{"i":172,"v":0.42},{"i":175.1,"v":0.11},{"i":178.1,"v":-0.24},{"i":181.2,"v":-0.5},{"i":185.3,"v":-0.68},{"i":188.3,"v":-0.78},{"i":190.4,"v":-0.78},{"i":193.4,"v":-0.59},{"i":196.5,"v":-0.33},{"i":199.6,"v":-0.11},{"i":202.6,"v":0.09},{"i":206.7,"v":0.13},{"i":209.8,"v":-0.07},{"i":212.8,"v":-0.26},{"i":215.9,"v":-0.31},{"i":220,"v":-0.2},{"i":224.1,"v":-0.09},{"i":228.1,"v":-0.02},{"i":232.2,"v":0.33},{"i":235.3,"v":0.35},{"i":238.3,"v":0.34},{"i":241.4,"v":0.18},{"i":245.5,"v":0.03},{"i":248.55,"v":-0.09},{"i":251.6,"v":-0.18},{"i":254.7,"v":-0.13},{"i":257.7,"v":0.11},{"i":260.8,"v":0.31},{"i":264.9,"v":0.37},{"i":269,"v":0.46},{"i":273,"v":0.48},{"i":277.1,"v":0.46},{"i":281.2,"v":0.44},{"i":285.3,"v":0.59},{"i":289.4,"v":0.78},{"i":293.4,"v":0.92},{"i":296.5,"v":1.01},{"i":299.6,"v":1.0},{"i":302.6,"v":0.88},{"i":305.7,"v":0.72},{"i":308.75,"v":0.61},{"i":311.8,"v":0.42},{"i":315.9,"v":0.11},{"i":318.75,"v":-0.13},{"i":321.8,"v":-0.46},{"i":324.9,"v":-0.77},{"i":327.9,"v":-1.03},{"i":329.5,"v":-1.15},{"i":332,"v":-1.16},{"i":335.1,"v":-0.99},{"i":339.2,"v":-0.68},{"i":343.2,"v":-0.29},{"i":346.3,"v":0.02},{"i":349.4,"v":0.37},{"i":352.4,"v":0.59},{"i":355.5,"v":0.75},{"i":359.6,"v":0.78},{"i":364.7,"v":0.77},{"i":369.8,"v":0.75},{"i":372.8,"v":0.59},{"i":375.9,"v":0.42},{"i":379,"v":0.31},{"i":382,"v":0.34},{"i":386.1,"v":0.39},{"i":390.2,"v":0.46},{"i":393.2,"v":0.42},{"i":396.3,"v":0.26},{"i":399.4,"v":0.12},{"i":402.4,"v":0.09},{"i":406.5,"v":0.16},{"i":409.6,"v":0.18},{"i":412.6,"v":0.11},{"i":416,"v":-0.056}
],
"levels":[{"p":79.21,"kind":"level"},{"p":78.48,"kind":"level"},{"p":75.94,"kind":"price"}],
"channel":[
{"a":100,"pa":75.09,"b":347,"pb":80.22},
{"a":100,"pa":74.77,"b":363,"pb":80.18},
{"a":112,"pa":67.85,"b":465.75,"pb":75.11},
{"a":119.5,"pa":67.62,"b":465.75,"pb":74.72}
],
"zone":[{"a":13.75,"b":412.75,"lo":78.48,"hi":79.21}]
},
"spacing":3,
"vconcat":[
{"width":1865,"height":622,
"layer":[
{"data":{"name":"zone"},"mark":{"type":"rect","fill":"#00ff00"},
 "encoding":{"x":{"field":"a","type":"quantitative","scale":{"domain":[-0.5,465.75],"nice":false,"zero":false},"axis":null},"x2":{"field":"b"},
  "y":{"field":"lo","type":"quantitative","scale":{"domain":[67.62,80.22],"nice":false,"zero":false},
   "axis":{"orient":"right","values":[68,69,70,71,72,73,74,75,77,78,79,80],"format":".2f","title":null,"tickSize":4,"labelPadding":2,"domain":false,"zindex":0,"labelFontSize":11.5}},
  "y2":{"field":"hi"}}},
{"data":{"name":"levels"},"transform":[{"filter":"datum.kind == 'price'"}],"mark":{"type":"rule","color":"#c4c4c4","strokeWidth":1},
 "encoding":{"y":{"field":"p","type":"quantitative","title":null}}},
{"data":{"name":"levels"},"transform":[{"filter":"datum.kind == 'level'"}],"mark":{"type":"rule","color":"#0a14a8","strokeWidth":1.6},
 "encoding":{"y":{"field":"p","type":"quantitative","title":null}}},
{"data":{"name":"channel"},"mark":{"type":"rule","color":"#000000","strokeWidth":1,"strokeDash":[10,5]},
 "encoding":{"x":{"field":"a","type":"quantitative","axis":null},"x2":{"field":"b"},"y":{"field":"pa","type":"quantitative","title":null},"y2":{"field":"pb"}}},
{"data":{"name":"bars"},"mark":{"type":"rule","strokeWidth":1},
 "encoding":{"x":{"field":"i","type":"quantitative","axis":null},"y":{"field":"l","type":"quantitative","title":null},"y2":{"field":"h"},
  "color":{"condition":{"test":"datum.c < datum.o","value":"#d3161b"},"value":"#27a3dc"}}},
{"data":{"name":"bars"},"mark":{"type":"rule","strokeWidth":3,"strokeCap":"butt"},
 "encoding":{"x":{"field":"i","type":"quantitative","axis":null},"y":{"field":"o","type":"quantitative","title":null},"y2":{"field":"c"},
  "color":{"condition":{"test":"datum.c < datum.o","value":"#d3161b"},"value":"#27a3dc"}}},
{"data":{"name":"ma"},"mark":{"type":"line","color":"#0c0cc8","strokeWidth":4.5,"interpolate":"monotone"},
 "encoding":{"x":{"field":"i","type":"quantitative","axis":null},"y":{"field":"v","type":"quantitative","title":null}}},
{"data":{"values":[{"t":"▼ OILUSD,H4  76.07 76.10 75.65 75.94"}]},"mark":{"type":"text","align":"left","baseline":"middle","fontSize":11,"color":"#000000"},
 "encoding":{"x":{"datum":0.8,"axis":null},"y":{"datum":80.03},"text":{"field":"t"}}},
{"data":{"name":"levels"},"mark":{"type":"rule","strokeWidth":14,"strokeCap":"butt"},
 "encoding":{"x":{"datum":466,"axis":null},"x2":{"datum":476.8},"y":{"field":"p","type":"quantitative","title":null},
  "color":{"condition":{"test":"datum.kind == 'price'","value":"#000000"},"value":"#1228c4"}}},
{"data":{"name":"levels"},"mark":{"type":"text","align":"left","baseline":"middle","fontSize":11.5,"color":"#ffffff"},
 "encoding":{"x":{"datum":466.4,"axis":null},"y":{"field":"p","type":"quantitative","title":null},"text":{"field":"p","type":"quantitative","format":".2f"}}}
]},
{"width":1865,"height":225,
"layer":[
{"data":{"name":"bars"},"mark":{"type":"rule","strokeWidth":2.5,"color":"#000000","strokeCap":"butt"},
 "encoding":{"x":{"field":"i","type":"quantitative","scale":{"domain":[-0.5,465.75],"nice":false,"zero":false},
   "axis":{"orient":"bottom","values":[0,24,48,72,96,120,144,168,192,216,240,264,288,312,336,360,384,408],
    "labelExpr":"['16 Nov 2023','22 Nov 09:00','28 Nov 13:00','4 Dec 13:00','8 Dec 13:00','14 Dec 13:00','20 Dec 13:00','27 Dec 17:00','4 Jan 01:00','10 Jan 01:00','16 Jan 01:00','22 Jan 01:00','26 Jan 01:00','1 Feb 01:00','7 Feb 01:00','13 Feb 01:00','19 Feb 01:00','23 Feb 01:00'][round(datum.value/24)]",
    "labelAlign":"left","labelOffset":2,"labelPadding":2,"tickSize":5,"domain":false,"title":null,"labelOverlap":false,"labelFlush":false,"zindex":0}},
  "y":{"field":"m","type":"quantitative","scale":{"domain":[-1.688,1.272],"nice":false,"zero":false},
   "axis":{"orient":"right","values":[1.131,0,-1.557],"labelExpr":"datum.value == 0 ? '0.00' : (datum.value > 0 ? '1.131' : '-1.557')","title":null,"tickSize":4,"labelPadding":2,"domain":false,"zindex":0}},
  "y2":{"datum":0}}},
{"data":{"name":"sig"},"mark":{"type":"line","color":"#b0302f","strokeWidth":1,"interpolate":"monotone"},
 "encoding":{"x":{"field":"i","type":"quantitative","title":null},"y":{"field":"v","type":"quantitative","title":null}}},
{"data":{"values":[{"t":"MACD(12,26,9) -0.358 -0.056"}]},"mark":{"type":"text","align":"left","baseline":"middle","fontSize":11,"color":"#000000"},
 "encoding":{"x":{"datum":0.8},"y":{"datum":1.128},"text":{"field":"t"}}},
{"data":{"values":[{"t":"Activate Windows","v":-1.2,"s":"big"},{"t":"Go to Settings to activate Windows.","v":-1.585,"s":"small"}]},
 "mark":{"type":"text","align":"left","baseline":"middle","font":"Noto Sans","color":"#a8a8a8"},
 "encoding":{"x":{"datum":387.3},"y":{"field":"v","type":"quantitative","title":null},"text":{"field":"t"},
  "size":{"condition":{"test":"datum.s == 'big'","value":23},"value":15.5}}}
]}
]
}
